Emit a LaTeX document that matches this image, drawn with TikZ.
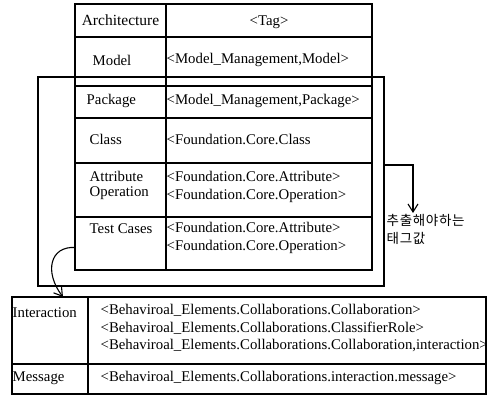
\documentclass[tikz,border=0pt]{standalone}
\usepackage{fontspec}
\setmainfont{Liberation Serif}
\newfontfamily\kofont[LetterSpace=5]{Noto Sans CJK KR}
\usepackage{tikz}
\usetikzlibrary{arrows.meta}

\begin{document}
\begin{tikzpicture}[x=1pt,y=-1pt,font=\fontsize{14.8}{17.5}\selectfont,
  cell/.style n args={2}{draw,line width=1.1pt,rectangle,anchor=north west,inner sep=0pt,outer sep=0pt,minimum width=#1pt,minimum height=#2pt},
  txt/.style={inner sep=1.5pt,align=left},
  arr/.style={line width=1.1pt,-{Straight Barb[length=8pt,width=10pt]}}]
\useasboundingbox (0,0) rectangle (487,403);
% upper table
\foreach \n/\t/\h in {arch/4/33,mod/37/49,pkg/86/32,cls/118/45,att/163/54,tst/217/53} {
   \node[cell={91}{\h}] (\n-l) at (75,\t) {};
   \node[cell={206}{\h}] (\n-r) at (166,\t) {};
}
\node[txt,font=\fontsize{15.5}{17.5}\selectfont] (t-arch) at (arch-l) {Architecture};
\node[txt] (t-tag) at ([yshift=-2pt]arch-r) {<Tag>};
\foreach \n/\x/\y/\s in {mod/91/60/Model,pkg/85/101/Package,cls/88/139/Class,tst/88/229/Test Cases} {
   \node[txt,anchor=west] (t-\n) at (\x,\y) {\s};
}
\node[txt,anchor=west,font=\fontsize{14.8}{15}\selectfont] (t-att) at (88,185) {Attribute\\Operation};
\node[txt,anchor=west] (v-mod) at (165,60) {<Model\_Management,Model>};
\node[txt,anchor=west] (v-pkg) at (165,101) {<Model\_Management,Package>};
\node[txt,anchor=west] (v-cls) at (165,139) {<Foundation.Core.Class};
\node[txt,anchor=west] (v-att) at (165,187) {<Foundation.Core.Attribute>\\<Foundation.Core.Operation>};
\node[txt,anchor=west] (v-tst) at (165,238) {<Foundation.Core.Attribute>\\<Foundation.Core.Operation>};
% frame round the extracted rows
\node[cell={346}{209},line width=1.4pt] (frame) at (38,77) {};
\node[txt,anchor=north west,font=\kofont\fontsize{13.5}{18}\selectfont] (note) at (385,213) {추출해야하는\\태그값};
\draw[arr] ([yshift=16.5pt]frame.east) -| ([xshift=28pt]note.north west);
% lower table
\foreach \n/\t/\h in {inter/297/67,msg/364/30} {
   \node[cell={76}{\h}] (\n-l) at (12,\t) {};
   \node[cell={398}{\h}] (\n-r) at (88,\t) {};
}
\node[txt,anchor=west] (t-inter) at (11,313) {Interaction};
\node[txt,anchor=west] (t-msg) at (11,378) {Message};
\node[txt,anchor=north west] (v-inter) at (99,303) {<Behaviroal\_Elements.Collaborations.Collaboration>\\<Behaviroal\_Elements.Collaborations.ClassifierRole>\\<Behaviroal\_Elements.Collaborations.Collaboration,interaction>};
\node[txt,anchor=west] (v-msg) at (99,378) {<Behaviroal\_Elements.Collaborations.interaction.message>};
\draw[arr] ([yshift=-4pt]tst-l.west) .. controls (50,246) and (44,272) .. ([xshift=13pt]inter-l.north);
\end{tikzpicture}
\end{document}
